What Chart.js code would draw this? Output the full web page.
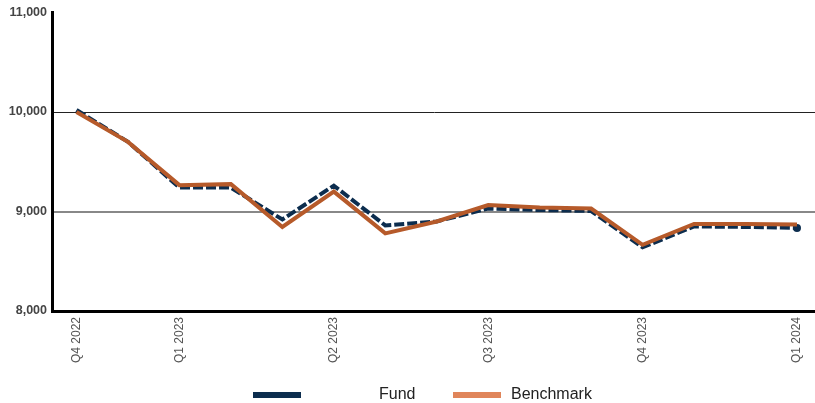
<!DOCTYPE html>
<html>
<head>
<meta charset="utf-8">
<script src="https://cdn.jsdelivr.net/npm/chart.js@4/dist/chart.umd.min.js"></script>
<style>
  html, body { margin: 0; padding: 0; background: #fff; }
  #wrap { position: relative; width: 815px; height: 403px; }
  #legend { position: absolute; left: 0; top: 0; width: 815px; height: 403px; pointer-events: none;
            font-family: "Liberation Sans", Arial, sans-serif; font-size: 16px; color: #222; }
  .sw { position: absolute; top: 392px; width: 48px; height: 6px; }
  .lt { position: absolute; top: 385px; line-height: 18px; }
</style>
</head>
<body>
<div id="wrap">
  <canvas id="c" width="815" height="403"></canvas>
  <div id="legend"></div>
</div>
<script>
// months from Q4 2022 to Q1 2024, only quarter ends carry a label
const xLabels = ['Q4 2022', '', 'Q1 2023', '', '', 'Q2 2023', '', '', 'Q3 2023', '', '', 'Q4 2023', '', '', 'Q1 2024'];
const fund      = [10020, 9700, 9240, 9240, 8920, 9260, 8860, 8900, 9030, 9015, 9005, 8640, 8850, 8845, 8835];
const benchmark = [10000, 9700, 9265, 9275, 8845, 9200, 8780, 8900, 9065, 9040, 9030, 8665, 8875, 8875, 8870];
const yTicks = [8000, 9000, 10000, 11000];

const NAVY = '#0c2d4e';
const RUST = '#b65a2a';
const FONT = '"Liberation Sans", Arial, sans-serif';

const pts = (arr) => arr.map((y, i) => ({ x: i, y }));

new Chart(document.getElementById('c'), {
  type: 'line',
  data: {
    datasets: [
      {
        label: 'Fund', data: pts(fund), order: 2,
        borderColor: NAVY, backgroundColor: NAVY, borderWidth: 4, borderDash: [10, 3],
        pointRadius: fund.map((_, i) => (i === fund.length - 1 ? 4 : 0)),
        pointBackgroundColor: NAVY, pointBorderWidth: 0, tension: 0, fill: false,
      },
      {
        label: 'Benchmark', data: pts(benchmark), order: 1,
        borderColor: RUST, backgroundColor: '#e0855a', borderWidth: 4,
        pointRadius: 0, tension: 0, fill: false,
      },
    ],
  },
  options: {
    responsive: false, animation: false,
    layout: { autoPadding: false, padding: { top: 9, right: 0, left: 0, bottom: 0 } },
    plugins: { legend: { display: false }, tooltip: { enabled: false } },
    scales: {
      x: {
        type: 'linear', min: -0.476, max: 14.35,
        afterBuildTicks: (s) => { s.ticks = xLabels.map((l, i) => ({ value: i, l })).filter((t) => t.l).map((t) => ({ value: t.value })); },
        afterFit: (s) => { s.height = 92; s.paddingRight = 0; },
        grid: { display: false, drawTicks: false },
        border: { display: true, color: '#000', width: 3 },
        ticks: {
          autoSkip: false, minRotation: 90, maxRotation: 90, padding: 6,
          color: '#555', font: { family: FONT, size: 12 },
          callback: (v) => xLabels[v] || '',
        },
      },
      y: {
        min: 8000, max: 11000,
        afterBuildTicks: (s) => { s.ticks = yTicks.map((v) => ({ value: v })); },
        afterFit: (s) => { s.width = 52; },
        grid: {
          drawTicks: false,
          color: (c) => (c.tick && c.tick.value === 10000 ? '#222' : c.tick && c.tick.value === 9000 ? '#888' : 'rgba(0,0,0,0)'),
          lineWidth: (c) => (c.tick && c.tick.value === 9000 ? 2 : 1),
        },
        border: { display: true, color: '#000', width: 3 },
        ticks: {
          padding: 5, color: '#444', font: { family: FONT, size: 12.5, weight: 'bold' },
          callback: (v) => Number(v).toLocaleString('en-US'),
        },
      },
    },
  },
});

// legend, laid out like the original (fixed slots)
const legendItems = [
  { label: 'Fund', color: NAVY, box: 253, text: 379 },
  { label: 'Benchmark', color: '#e0855a', box: 453, text: 511 },
];
const lg = document.getElementById('legend');
legendItems.forEach((it) => {
  const sw = document.createElement('div');
  sw.className = 'sw'; sw.style.left = it.box + 'px'; sw.style.background = it.color;
  const t = document.createElement('div');
  t.className = 'lt'; t.style.left = it.text + 'px'; t.textContent = it.label;
  lg.appendChild(sw); lg.appendChild(t);
});
</script>
</body>
</html>
